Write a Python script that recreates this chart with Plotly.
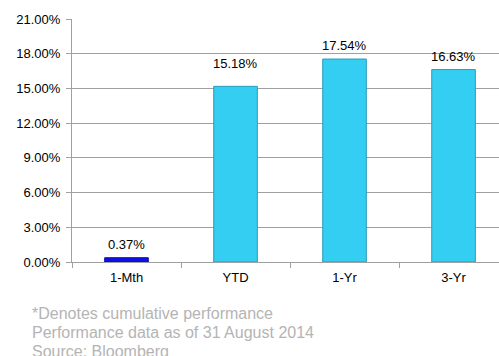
import plotly.graph_objects as go

categories = ["1-Mth", "YTD", "1-Yr", "3-Yr"]
values = [0.37, 15.18, 17.54, 16.63]
bar_colors = ["#1010E6", "#33CEF2", "#33CEF2", "#33CEF2"]
line_colors = ["#0A0AB0", "#2A9CB8", "#2A9CB8", "#2A9CB8"]
label_gaps = [4, 13, 4, 4]
footnotes = ["*Denotes cumulative performance",
             "Performance data as of 31 August 2014",
             "Source: Bloomberg"]

fig = go.Figure(go.Bar(
    x=categories, y=values, width=0.40,
    marker=dict(color=bar_colors, line=dict(color=line_colors, width=1)),
))

for c, v, g in zip(categories, values, label_gaps):
    fig.add_annotation(
        x=c, y=v, text=f"{v:.2f}%", showarrow=False, yanchor="bottom",
        yshift=g, font=dict(family="Liberation Sans, Arial", size=13, color="#000000"),
    )

fig.update_layout(
    width=499, height=356,
    margin=dict(l=72, r=0, t=19, b=94),
    plot_bgcolor="white", paper_bgcolor="white",
    font=dict(family="Liberation Sans, Arial", size=13, color="#000000"),
    showlegend=False,
)
fig.update_xaxes(
    range=[-0.5, 3.417], showgrid=False, showline=True, linecolor="#A0A0A0",
    linewidth=1, ticks="outside", tickson="boundaries", ticklen=5,
    tickcolor="#A0A0A0", tickfont=dict(size=13), ticklabelstandoff=3,
)
fig.update_yaxes(
    range=[0, 21], dtick=3, tickformat=".2f", ticksuffix="%",
    showgrid=True, gridcolor="#A0A0A0", gridwidth=1, showline=True,
    linecolor="#A0A0A0", ticks="outside", ticklen=5, tickcolor="#A0A0A0",
    zeroline=False, tickfont=dict(size=13), ticklabelstandoff=3,
)

for i, t in enumerate(footnotes):
    fig.add_annotation(
        text=t, xref="paper", yref="paper", x=(30 - 72) / 427, xanchor="left",
        y=(356 - 94 - 313) / 243, yanchor="middle", showarrow=False,
        yshift=-19 * i,
        font=dict(family="Liberation Sans, Arial", size=16, color="#B4B4B4"),
    )

fig.write_html("out.html")
